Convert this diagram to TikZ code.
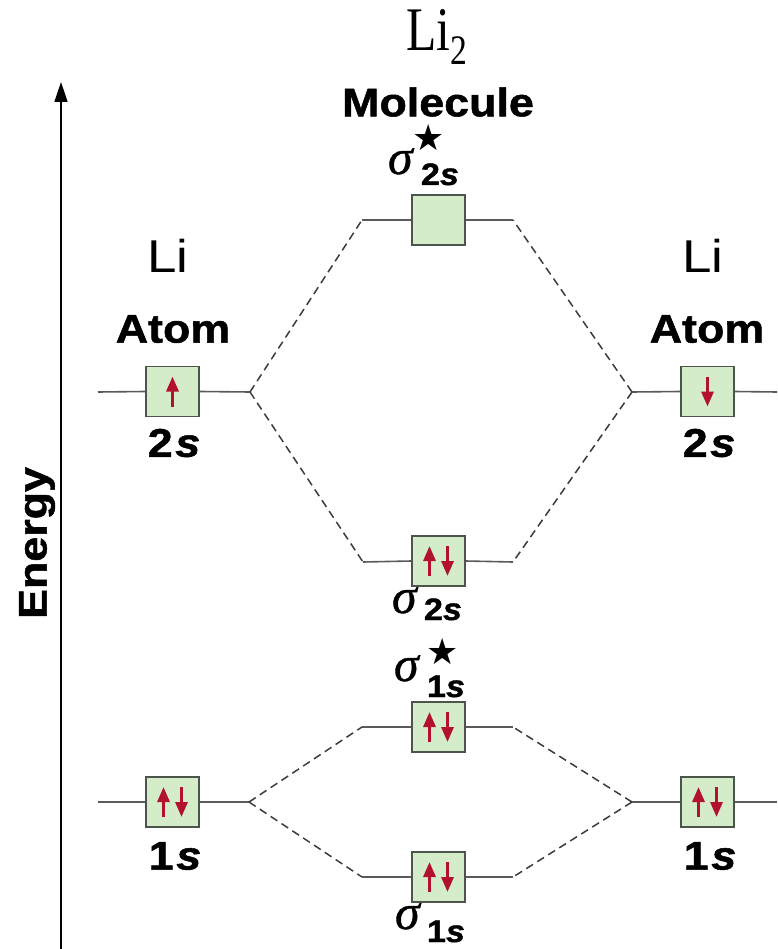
\documentclass[tikz,border=0pt]{standalone}
\usepackage{graphicx}
\usepackage{fontspec}
\setmainfont{Liberation Sans}
\newfontfamily\serifli{Liberation Serif}
\newfontfamily\sigfont[FakeBold=0.8]{Liberation Serif Italic}
\newfontfamily\heavyb[FakeBold=1.2]{Liberation Sans Bold}
\newfontfamily\heavybi[FakeBold=1.2]{Liberation Sans Bold Italic}
\newfontfamily\dejavu{DejaVu Sans}
\usetikzlibrary{arrows.meta,calc}
\definecolor{boxfill}{RGB}{212,236,200}
\definecolor{boxline}{RGB}{75,85,75}
\definecolor{spinred}{RGB}{178,18,44}
\definecolor{levelc}{RGB}{90,90,90}
\definecolor{dashc}{RGB}{60,60,60}
\newcommand\boldlab[1]{\scalebox{1.12}[1]{\fontsize{40}{48}\selectfont\heavyb #1}}
\newcommand\sublab[1]{\scalebox{1.1}[1]{\fontsize{31}{36}\selectfont\heavyb #1}}
\newcommand\sigglyph{{\sigfont\fontsize{50}{54}\selectfont σ}}
\newcommand\starglyph{{\dejavu\fontsize{36}{38}\selectfont ★}}
\tikzset{
  orb/.style={draw=boxline, fill=boxfill, line width=1.5pt, minimum width=53pt, minimum height=50pt, inner sep=0pt},
  lvl/.style={draw=levelc, line width=1.6pt},
  corr/.style={draw=dashc, dash pattern=on 8pt off 5pt, line width=1.5pt},
  spin/.style={draw=spinred, line width=3pt, -{Triangle[length=15pt,width=12pt]}},
  lab/.style={inner sep=0pt, outer sep=0pt},
  starlab/.style={inner sep=0pt, outer sep=0pt, text height=0.62em, text depth=0pt}
}
\newcommand\upspin[2]{\draw[spin] ($(#1)+(#2,15)$) -- ($(#1)+(#2,-15)$);}
\newcommand\downspin[2]{\draw[spin] ($(#1)+(#2,-15)$) -- ($(#1)+(#2,15)$);}
\begin{document}
\begin{tikzpicture}[x=1pt,y=-1pt]
\useasboundingbox (0,0) rectangle (777,949);
% energy axis
\coordinate (axb) at (61,949);
\coordinate (axt) at (61,82);
\draw[line width=1.6pt, -{Triangle[length=20pt,width=13pt]}] (axb) -- (axt);
\node[lab, rotate=90] (energy) at (37,543) {\boldlab{Energy}};
% titles
\node[lab] (li2) at (437,37) {\scalebox{0.8}[1]{\serifli\fontsize{62}{68}\selectfont Li\raisebox{-0.22em}{\fontsize{42}{46}\selectfont 2}}};
\node[lab] (molecule) at (438,102) {\boldlab{Molecule}};
\node[lab] (liL) at (168,256) {\scalebox{1.15}[1]{\fontsize{46}{50}\selectfont Li}};
\node[lab] (liR) at (703,256) {\scalebox{1.15}[1]{\fontsize{46}{50}\selectfont Li}};
\node[lab] (atomL) at (173,329) {\boldlab{Atom}};
\node[lab] (atomR) at (707,329) {\boldlab{Atom}};
% orbital boxes
\node[orb] (L2s) at (172.5,391.5) {};
\node[orb] (R2s) at (707.5,391.5) {};
\node[orb] (SS2) at (438.5,220) {};
\node[orb] (S2) at (438.5,561) {};
\node[orb] (SS1) at (438.5,727) {};
\node[orb] (S1) at (438.5,877) {};
\node[orb] (L1s) at (172.5,802) {};
\node[orb] (R1s) at (707.5,802) {};
% atom labels
\node[lab] (l2sL) at (174,443) {\boldlab{2\kern0.06em{\heavybi s}}};
\node[lab] (l2sR) at (709,443) {\boldlab{2\kern0.06em{\heavybi s}}};
\node[lab] (l1sL) at (175,856) {\boldlab{1\kern0.06em{\heavybi s}}};
\node[lab] (l1sR) at (710,856) {\boldlab{1\kern0.06em{\heavybi s}}};
% MO labels
\node[lab, anchor=base west] (sg1) at (388,174) {\sigglyph};
\node[lab, anchor=base west] (sb1) at (421,185) {\sublab{2{\heavybi s}}};
\node[starlab, anchor=base] (st1) at (429,151) {\starglyph};
\node[lab, anchor=base west] (sg2) at (392,613) {\sigglyph};
\node[lab, anchor=base west] (sb2) at (424,620) {\sublab{2{\heavybi s}}};
\node[lab, anchor=base west] (sg3) at (394,681) {\sigglyph};
\node[lab, anchor=base west] (sb3) at (427,697) {\sublab{1{\heavybi s}}};
\node[starlab, anchor=base] (st3) at (443,664) {\starglyph};
\node[lab, anchor=base west] (sg4) at (395,929) {\sigglyph};
\node[lab, anchor=base west] (sb4) at (427,942) {\sublab{1{\heavybi s}}};
% level lines, 2s
\coordinate (fL2) at (98,392);
\coordinate (vL2) at (250,392);
\coordinate (fR2) at (777,392);
\coordinate (vR2) at (632,392);
\coordinate (ss2a) at (362,220);
\coordinate (ss2b) at (513,220);
\coordinate (s2a) at (363,562);
\coordinate (s2b) at (513,562);
\draw[lvl] (fL2) -- (L2s.west);
\draw[lvl] (L2s.east) -- (vL2);
\draw[lvl] (vR2) -- (R2s.west);
\draw[lvl] (R2s.east) -- (fR2);
\draw[lvl] (ss2a) -- (SS2.west);
\draw[lvl] (SS2.east) -- (ss2b);
\draw[lvl] (s2a) -- (S2.west);
\draw[lvl] (S2.east) -- (s2b);
\draw[corr] (vL2) -- (ss2a);
\draw[corr] (vL2) -- (s2a);
\draw[corr] (vR2) -- (ss2b);
\draw[corr] (vR2) -- (s2b);
% level lines, 1s
\coordinate (fL1) at (98,802);
\coordinate (vL1) at (249,802);
\coordinate (fR1) at (777,802);
\coordinate (vR1) at (632,802);
\coordinate (ss1a) at (362,727);
\coordinate (ss1b) at (513,727);
\coordinate (s1a) at (362,877);
\coordinate (s1b) at (513,877);
\draw[lvl] (fL1) -- (L1s.west);
\draw[lvl] (L1s.east) -- (vL1);
\draw[lvl] (vR1) -- (R1s.west);
\draw[lvl] (R1s.east) -- (fR1);
\draw[lvl] (ss1a) -- (SS1.west);
\draw[lvl] (SS1.east) -- (ss1b);
\draw[lvl] (s1a) -- (S1.west);
\draw[lvl] (S1.east) -- (s1b);
\draw[corr] (vL1) -- (ss1a);
\draw[corr] (vL1) -- (s1a);
\draw[corr] (vR1) -- (ss1b);
\draw[corr] (vR1) -- (s1b);
% electrons
\upspin{L2s}{0}
\downspin{R2s}{0}
\upspin{S2}{-9}
\downspin{S2}{9}
\upspin{SS1}{-9}
\downspin{SS1}{9}
\upspin{S1}{-9}
\downspin{S1}{9}
\upspin{L1s}{-9}
\downspin{L1s}{9}
\upspin{R1s}{-9}
\downspin{R1s}{9}
\end{tikzpicture}
\end{document}
